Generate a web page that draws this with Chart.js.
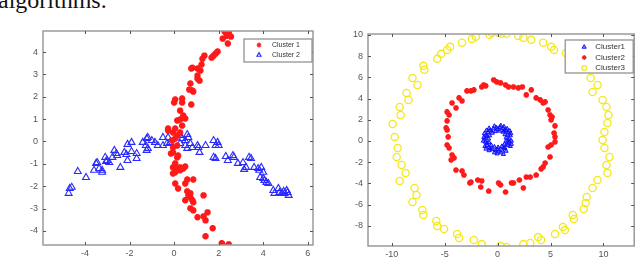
<!DOCTYPE html>
<html>
<head>
<meta charset="utf-8">
<script src="https://cdn.jsdelivr.net/npm/chart.js@4.4.1/dist/chart.umd.min.js"></script>
<style>
  html, body { margin: 0; padding: 0; background: #fff; overflow: hidden; }
  #page { position: relative; width: 640px; height: 260px; }
  #caption { position: absolute; left: -2px; top: -12px; font: 24px "Liberation Serif", serif; line-height: 24px; color: #111; white-space: nowrap; }
  .box { position: absolute; top: 0; width: 320px; height: 260px; }
</style>
</head>
<body>
<div id="page">
  <div id="caption">algorithms.</div>
  <div class="box" style="left:0"><canvas id="left" width="320" height="260"></canvas></div>
  <div class="box" style="left:320px"><canvas id="right" width="320" height="260"></canvas></div>
</div>
<script>
// ---- left plot: two crossing clusters ----
const LEFT_NAMES = ["Cluster 1", "Cluster 2"];
const LEFT_X_TICKS = [-4, -2, 0, 2, 4, 6];
const LEFT_Y_TICKS = [-4, -3, -2, -1, 0, 1, 2, 3, 4];

const leftCluster1 = [
  [2.27,4.91],[2.45,4.87],[2.36,4.73],[2.55,4.69],[2.18,4.6],[2.41,4.38],
  [1.95,4.02],[1.86,3.93],[1.77,3.84],[1.68,3.75],
  [1.36,3.84],[1.27,3.7],[1.23,3.44],[1.18,3.17],[1.05,3.26],[0.82,3.3],[0.77,3.26],
  [1.05,2.95],[1.14,2.72],[1.05,2.81],[0.73,2.59],[0.82,2.28],[0.86,2.23],[0.68,2.32],
  [0.36,1.92],[0.05,1.88],[0,1.74],[0.36,1.74],[0.77,1.65],
  [0.27,1.38],[0.41,1.16],[0.27,0.98],[0.14,0.94],[0.5,1.03],[0.36,0.71],[-0.27,0.58],[0.05,0.58],
  [-0.27,0.49],[-0.05,0.4],[0.14,0.27],[0.27,0.4],[0.05,0.13],[-0.09,0.04],[0.14,-0.18],[-0.05,-0.27],
  [-0.05,-0.49],[-0.14,-0.54],[0.14,-0.71],[0.18,-0.63],
  [0.05,-0.98],[-0.05,-1.16],[0.14,-1.21],[0.27,-1.16],[0.5,-1.12],[0.41,-1.21],
  [0.05,-1.38],[0.27,-1.29],[-0.05,-1.43],
  [0.59,-1.7],[0.86,-1.7],[0.05,-1.88],[0.5,-1.88],[0.18,-2.1],
  [0.59,-2.23],[0.64,-2.41],[0.73,-2.5],[0.5,-2.63],[0.82,-2.63],[0.86,-2.72],[0.73,-2.32],
  [1.32,-2.41],[0.73,-2.99],[0.86,-3.08],
  [1.5,-3.17],[1.32,-3.35],[1.05,-3.39],[1.41,-3.53],
  [1.73,-3.88],[1.41,-4.24],[2.14,-4.55],[2.45,-4.6],[2.18,-4.64]
];

const leftCluster2 = [
  [-4.68,-2.1],[-4.59,-2.05],[-4.73,-2.32],[-4.32,-1.34],[-3.95,-1.61],
  [-3.59,-1.29],[-3.5,-0.98],[-3.45,-0.94],[-3.23,-1.29],[-3.36,-1.21],[-3.23,-1.38],
  [-3.09,-0.71],[-3,-0.85],[-2.91,-0.94],[-3.05,-0.89],
  [-2.68,-0.4],[-2.59,-0.54],[-2.55,-0.63],[-2.77,-0.71],[-2.41,-1.16],
  [-2.23,-0.49],[-2.14,-0.58],[-2.09,-0.85],[-2.09,-0.13],[-1.91,-0.04],
  [-1.91,-0.45],[-1.68,-0.54],[-1.68,-0.76],
  [-1.41,-0.04],[-1.23,0.13],[-1.18,0.18],[-1.27,-0.18],[-1.18,-0.31],[-1.23,-0.4],[-1,0.04],
  [-0.86,-0.04],[-0.73,-0.18],[-0.5,0.18],[-0.5,-0.18],[-0.32,-0.09],[-0.27,0.18],[-0.18,-0.04],
  [0.27,0.27],[0.36,0.13],[0.5,0.04],[0.59,0.31],[0.64,0.18],[0.27,-0.09],[0.5,-0.18],[0.73,-0.09],
  [0.59,-0.31],[0.82,-0.27],[1.05,-0.18],[1.09,-0.27],[1.14,-0.49],[1.41,-0.18],
  [1.77,0.04],[1.95,-0.04],[1.86,-0.18],[2,-0.18],[1.77,-0.71],[1.86,-0.76],
  [2.32,-0.67],[2.41,-0.85],[2.64,-0.63],[2.68,-0.71],
  [2.86,-0.98],[3.09,-0.94],[3.23,-1.16],[3.14,-1.25],[3.36,-0.71],[3.45,-0.76],
  [3.59,-1.16],[3.77,-1.21],[3.91,-1.16],[3.82,-1.29],[4,-1.38],
  [3.86,-1.61],[4,-1.65],[4.05,-1.74],[4.14,-1.83],[4.23,-1.88],
  [4.68,-2.1],[4.73,-2.28],[4.82,-2.32],[4.91,-2.23],[4.5,-2.32],[4.45,-2.19],
  [4.95,-2.32],[5.14,-2.41],[5.05,-2.19],[5.09,-2.28]
];

// ---- right plot: three rings ----
const RIGHT_NAMES = ["Cluster1", "Cluster2", "Cluster3"];
const RIGHT_X_TICKS = [-10, -5, 0, 5, 10];
const RIGHT_Y_TICKS = [-8, -6, -4, -2, 0, 2, 4, 6, 8, 10];

const rightCluster1 = [
  [1.1,0.2],[1.2,0.5],[1.0,0.8],[0.8,1.0],[0.5,1.2],[0.2,1.3],[-0.1,1.25],[-0.4,1.15],[-0.7,1.0],
  [-0.9,0.8],[-1.1,0.5],[-1.2,0.2],[-1.15,-0.1],[-1.0,-0.4],[-0.8,-0.6],[-0.5,-0.8],[-0.2,-0.9],
  [0.1,-0.95],[0.4,-0.85],[0.7,-0.7],[0.95,-0.4],[1.1,-0.1],
  [0.8,0.3],[0.7,0.6],[0.5,0.85],[0.2,0.95],[-0.2,0.9],[-0.5,0.75],[-0.75,0.5],[-0.85,0.2],
  [-0.8,-0.15],[-0.6,-0.4],[-0.3,-0.55],[0.05,-0.6],[0.4,-0.5],[0.65,-0.3],[0.8,0.0],
  [1.3,0.0],[1.25,0.7],[0.9,1.15],[0.3,1.45],[-0.3,1.4],[-0.8,1.2],[-1.25,0.7],[-1.35,0.0],
  [-1.2,-0.5],[-0.8,-0.9],[-0.3,-1.1],[0.3,-1.1],[0.8,-0.95],[1.2,-0.5],
  [1.0,0.0],[0.95,0.55],[0.65,0.95],[0.0,1.1],[-0.6,0.95],[-1.0,0.45],[-1.0,-0.2],[-0.7,-0.7],
  [0.0,-0.8],[0.6,-0.6],[0.95,-0.25],
  [1.15,0.95],[-1.05,1.0],[-1.3,0.35],[-1.1,-0.75],[0.55,-1.25],[-0.05,-1.2],[1.3,-0.3],[0.6,1.35]
];

const rightCluster2 = [
  [-0.37,5.75],[-0.09,5.57],[0.28,5.47],[-1.31,5.28],[-1.5,5.09],[-1.12,5.19],
  [-2.24,4.81],[-2.52,4.72],[-2.9,4.72],[0.75,5.28],[1.03,5.09],
  [1.5,5.09],[1.96,5],[2.34,5.09],[3.18,4.81],[2.71,4.34],
  [3.64,4.06],[4.02,3.87],[4.49,3.68],[4.3,3.58],
  [4.77,2.92],[4.95,2.45],[5.14,2.26],[5.05,1.98],[5.42,1.42],
  [-3.64,4.06],[-3.36,3.77],[-4.3,3.58],[-3.93,3.11],
  [-4.77,2.74],[-4.58,2.45],[-4.77,1.89],[-4.86,1.23],
  [-4.77,1.04],[-4.67,0.38],[-4.77,-0.38],[-4.58,-0.66],
  [-4.3,-1.32],[-4.39,-1.79],[-4.11,-1.6],
  [-3.93,-2.74],[-3.36,-2.83],[-3.18,-3.21],[-2.52,-3.87],[-2.62,-3.96],
  [-1.87,-3.68],[-1.5,-3.77],[-1.59,-4.34],[-0.84,-4.72],
  [0.09,-3.96],[0.28,-4.15],[0.75,-4.81],[1.31,-3.96],[1.5,-3.96],[2.06,-3.68],[2.43,-4.43],
  [2.71,-3.4],[3.08,-3.4],[3.64,-3.21],[4.11,-2.64],[4.3,-2.45],[4.49,-2.08],[4.95,-1.51],
  [4.77,-0.57],[5.05,-0.38],[5.42,0.38],[5.33,0.75],[5.42,-0.09]
];

const rightCluster3 = [
  [-2.06,9.81],[-2.43,9.62],[-0.75,10],[-0.56,10.19],[0.09,10.19],[0.37,10.1],[0.84,10.1],
  [1.96,9.9],[2.43,9.72],[3.18,9.53],[4.3,9.25],[5.05,8.87],[5.33,8.58],[6.45,8.3],
  [-3.36,9.25],[-4.49,8.87],[-4.77,8.58],[-5.33,8.21],[-5.7,7.74],
  [-7.01,7.08],[-6.92,6.7],[-8.04,5.94],[-7.57,5.28],[-8.6,4.53],[-8.41,3.87],
  [-9.25,3.21],[-9.16,2.45],[-9.91,1.6],
  [8.79,5.94],[9.44,5.28],[8.97,4.62],[9.91,3.87],[10.28,3.21],[10.47,2.45],[10.37,1.7],
  [-9.72,0.38],[-9.44,-0.66],[-9.53,-1.51],[-9.07,-2.26],[-8.69,-3.02],[-9.25,-3.77],
  [-7.85,-4.43],[-7.66,-5.09],[-8.04,-5.75],[-7.1,-6.51],[-7.01,-6.98],
  [-5.79,-7.55],[-5.7,-8.02],[-5.05,-8.3],[-3.83,-8.77],[-3.64,-9.15],
  [-2.24,-9.34],[-1.5,-9.72],[0.28,-9.91],[0.84,-10],
  [2.43,-9.72],[3.08,-9.62],[3.83,-9.06],[4.11,-9.34],[5.42,-8.77],
  [6.17,-8.11],[6.36,-8.4],[7.1,-6.98],[7.2,-7.36],
  [8.13,-6.42],[8.32,-5.85],[8.41,-5.28],[8.97,-4.43],[9.44,-3.68],
  [10.37,-3.02],[10.28,-2.26],[10.56,-1.51],[9.91,0.09],[10.09,-0.66],[10.09,0.85]
];

const toXY = arr => arr.map(p => ({ x: p[0], y: p[1] }));

// MATLAB-like frame, inward ticks and an in-plot legend
const matlabBox = {
  id: "matlabBox",
  afterDraw(chart, args, opts) {
    const c = chart.ctx, a = chart.chartArea;
    const sx = chart.scales.x, sy = chart.scales.y;
    c.save();
    c.strokeStyle = "#9a9a9a";
    c.lineWidth = 1.5;
    c.strokeRect(a.left, a.top, a.right - a.left, a.bottom - a.top);
    c.strokeStyle = "#555";
    c.lineWidth = 1;
    sx.ticks.forEach(t => {
      const px = Math.round(sx.getPixelForValue(t.value)) + 0.5;
      c.beginPath();
      c.moveTo(px, a.bottom); c.lineTo(px, a.bottom - 3);
      c.moveTo(px, a.top); c.lineTo(px, a.top + 3);
      c.stroke();
    });
    sy.ticks.forEach(t => {
      const py = Math.round(sy.getPixelForValue(t.value)) + 0.5;
      c.beginPath();
      c.moveTo(a.left, py); c.lineTo(a.left + 3, py);
      c.moveTo(a.right, py); c.lineTo(a.right - 3, py);
      c.stroke();
    });

    // legend
    const lg = opts.legend;
    const x0 = a.right - lg.w - lg.dx, y0 = a.top + lg.dy;
    c.fillStyle = "#fff";
    c.fillRect(x0, y0, lg.w, lg.h);
    c.strokeStyle = "#8a8a8a";
    c.lineWidth = 1.2;
    c.strokeRect(x0, y0, lg.w, lg.h);
    c.font = lg.font;
    c.textBaseline = "middle";
    chart.data.datasets.forEach((ds, i) => {
      const yy = y0 + lg.first + i * lg.step;
      c.fillStyle = ds.backgroundColor;
      c.strokeStyle = ds.borderColor;
      c.lineWidth = Math.min(ds.borderWidth, 1.2);
      Chart.helpers.drawPoint(c, { pointStyle: ds.pointStyle, radius: lg.r, borderWidth: c.lineWidth }, x0 + lg.mark, yy);
      c.fillStyle = "#333";
      c.fillText(ds.label, x0 + lg.text, yy);
    });
    c.restore();
  }
};

function axisCfg(min, max, tickList, size, isX) {
  return {
    type: "linear",
    min: min, max: max,
    grid: { display: false, drawTicks: false },
    border: { display: false },
    ticks: {
      color: "#555",
      font: { family: "Liberation Sans, Arial", size: 9 },
      padding: isX ? 3 : 5,
      autoSkip: false,
      maxRotation: 0
    },
    afterBuildTicks: s => { s.ticks = tickList.map(v => ({ value: v })); },
    afterFit: s => { if (isX) s.height = size; else s.width = size; }
  };
}

new Chart(document.getElementById("left"), {
  type: "scatter",
  data: {
    datasets: [
      { label: LEFT_NAMES[0], data: toXY(leftCluster1), pointStyle: "star",
        radius: 3.2, borderColor: "#ff1a1a", backgroundColor: "#ff1a1a", borderWidth: 2.2 },
      { label: LEFT_NAMES[1], data: toXY(leftCluster2), pointStyle: "triangle",
        radius: 4, borderColor: "#2b2bff", backgroundColor: "rgba(0,0,0,0)", borderWidth: 1.1 }
    ]
  },
  options: {
    responsive: false, animation: false,
    layout: { padding: { top: 31, right: 7, left: 0, bottom: 0 } },
    plugins: {
      legend: { display: false }, tooltip: { enabled: false },
      matlabBox: { legend: { w: 68, h: 23, dx: 1, dy: 8, first: 6, step: 10, mark: 15, text: 28, r: 2.4,
        font: "7px Liberation Sans, Arial" } }
    },
    scales: {
      x: axisCfg(-5.88, 6.23, LEFT_X_TICKS, 15, true),
      y: axisCfg(-4.63, 4.94, LEFT_Y_TICKS, 43, false)
    }
  },
  plugins: [matlabBox]
});

new Chart(document.getElementById("right"), {
  type: "scatter",
  data: {
    datasets: [
      { label: RIGHT_NAMES[0], data: toXY(rightCluster1), pointStyle: "triangle",
        radius: 2.4, borderColor: "#1010ff", backgroundColor: "rgba(16,16,255,0.45)", borderWidth: 1 },
      { label: RIGHT_NAMES[1], data: toXY(rightCluster2), pointStyle: "star",
        radius: 2.8, borderColor: "#ff1a1a", backgroundColor: "#ff1a1a", borderWidth: 1.8 },
      { label: RIGHT_NAMES[2], data: toXY(rightCluster3), pointStyle: "circle",
        radius: 3.6, borderColor: "#f4e81a", backgroundColor: "rgba(0,0,0,0)", borderWidth: 1.3 }
    ]
  },
  options: {
    responsive: false, animation: false,
    layout: { padding: { top: 34, right: 3, left: 0, bottom: 0 } },
    plugins: {
      legend: { display: false }, tooltip: { enabled: false },
      matlabBox: { legend: { w: 68, h: 33, dx: 1, dy: 6, first: 7, step: 10.5, mark: 19, text: 30, r: 2.4,
        font: "8px Liberation Sans, Arial" } }
    },
    scales: {
      x: axisCfg(-12.24, 12.9, RIGHT_X_TICKS, 14, true),
      y: axisCfg(-9.9, 10.08, RIGHT_Y_TICKS, 48, false)
    }
  },
  plugins: [matlabBox]
});
</script>
</body>
</html>
